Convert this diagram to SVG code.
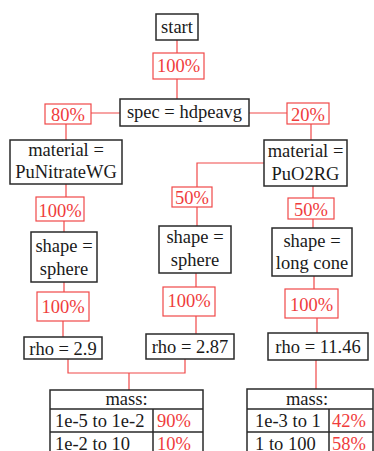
<svg xmlns="http://www.w3.org/2000/svg" width="374" height="451" viewBox="0 0 374 451">
<style>
.n{fill:#fff;stroke:#2a2a2a;stroke-width:1.5}
.p{fill:#fff;stroke:#f04848;stroke-width:1.2}
.c{fill:none;stroke:#f04848;stroke-width:1.2}
text{font-family:"Liberation Serif","Times New Roman",serif;font-size:18.5px;fill:#1a1a1a}
.m{text-anchor:middle}
.r{fill:#f03c3c}
</style>
<rect width="374" height="451" fill="#fff"/>
<g id="connectors">
<path class="c" d="M177,40V53M177,79V99M120,113H91M249,113H287M66,124V140M311,124V140"/>
<path class="c" d="M66,184V197M64,221V232M64,282V292M63,321V337"/>
<path class="c" d="M264,163H197V187M197,207V226M196,273V287M196,316V334"/>
<path class="c" d="M313,186V198M313,219V228M314,276V289M317,318V333M316,360V389"/>
<path class="c" d="M68,359V373H185V359M129,373V390"/>
</g>
<g id="start"><rect class="n" x="156" y="14" width="42" height="26"/><text class="m" x="177" y="33">start</text></g>
<g id="p100a"><rect class="p" x="153" y="53" width="51" height="26"/><text class="m r" x="178.5" y="72">100%</text></g>
<g id="spec"><rect class="n" x="120" y="99" width="129" height="27"/><text class="m" x="184.5" y="118">spec = hdpeavg</text></g>
<g id="p80"><rect class="p" x="45" y="104" width="46" height="20"/><text class="m r" x="68" y="121">80%</text></g>
<g id="p20"><rect class="p" x="287" y="103" width="42" height="21"/><text class="m r" x="308" y="121">20%</text></g>
<g id="matL"><rect class="n" x="10" y="140" width="112" height="44"/><text class="m" x="66" y="156">material =</text><text class="m" x="66" y="178">PuNitrateWG</text></g>
<g id="matR"><rect class="n" x="264" y="140" width="83" height="46"/><text class="m" x="305.5" y="157">material =</text><text class="m" x="305.5" y="180">PuO2RG</text></g>
<g id="p100b"><rect class="p" x="36" y="197" width="48" height="24"/><text class="m r" x="60" y="217">100%</text></g>
<g id="p50a"><rect class="p" x="172" y="187" width="40" height="20"/><text class="m r" x="192" y="204">50%</text></g>
<g id="p50b"><rect class="p" x="288" y="198" width="46" height="21"/><text class="m r" x="311" y="216">50%</text></g>
<g id="shapeL"><rect class="n" x="31" y="232" width="66" height="50"/><text class="m" x="64" y="252">shape =</text><text class="m" x="64" y="275">sphere</text></g>
<g id="shapeM"><rect class="n" x="159" y="226" width="72" height="47"/><text class="m" x="195" y="243">shape =</text><text class="m" x="195" y="266">sphere</text></g>
<g id="shapeR"><rect class="n" x="272" y="228" width="80" height="48"/><text class="m" x="312" y="247">shape =</text><text class="m" x="312" y="269">long cone</text></g>
<g id="p100c"><rect class="p" x="37" y="292" width="52" height="29"/><text class="m r" x="63" y="313">100%</text></g>
<g id="p100d"><rect class="p" x="163" y="287" width="52" height="29"/><text class="m r" x="189" y="307">100%</text></g>
<g id="p100e"><rect class="p" x="285" y="289" width="53" height="29"/><text class="m r" x="311.5" y="311">100%</text></g>
<g id="rhoL"><rect class="n" x="24" y="337" width="78" height="22"/><text class="m" x="63" y="355">rho = 2.9</text></g>
<g id="rhoM"><rect class="n" x="146" y="334" width="88" height="25"/><text class="m" x="190" y="353">rho = 2.87</text></g>
<g id="rhoR"><rect class="n" x="268" y="333" width="100" height="27"/><text class="m" x="318" y="353">rho = 11.46</text></g>
<g id="massL">
<rect class="n" x="50" y="390" width="153" height="70"/>
<path class="n" d="M50,409H203M50,432H203M153,409V460"/>
<text class="m" x="126.5" y="405">mass:</text>
<text x="55" y="427">1e-5 to 1e-2</text><text class="r" x="157" y="427">90%</text>
<text x="55" y="450">1e-2 to 10</text><text class="r" x="157" y="450">10%</text>
</g>
<g id="massR">
<rect class="n" x="247" y="389" width="126" height="71"/>
<path class="n" d="M247,409H373M247,432H373M329,409V460"/>
<text class="m" x="307" y="405">mass:</text>
<text x="255" y="427">1e-3 to 1</text><text class="r" x="332" y="427">42%</text>
<text x="255" y="450">1 to 100</text><text class="r" x="332" y="450">58%</text>
</g>
</svg>
